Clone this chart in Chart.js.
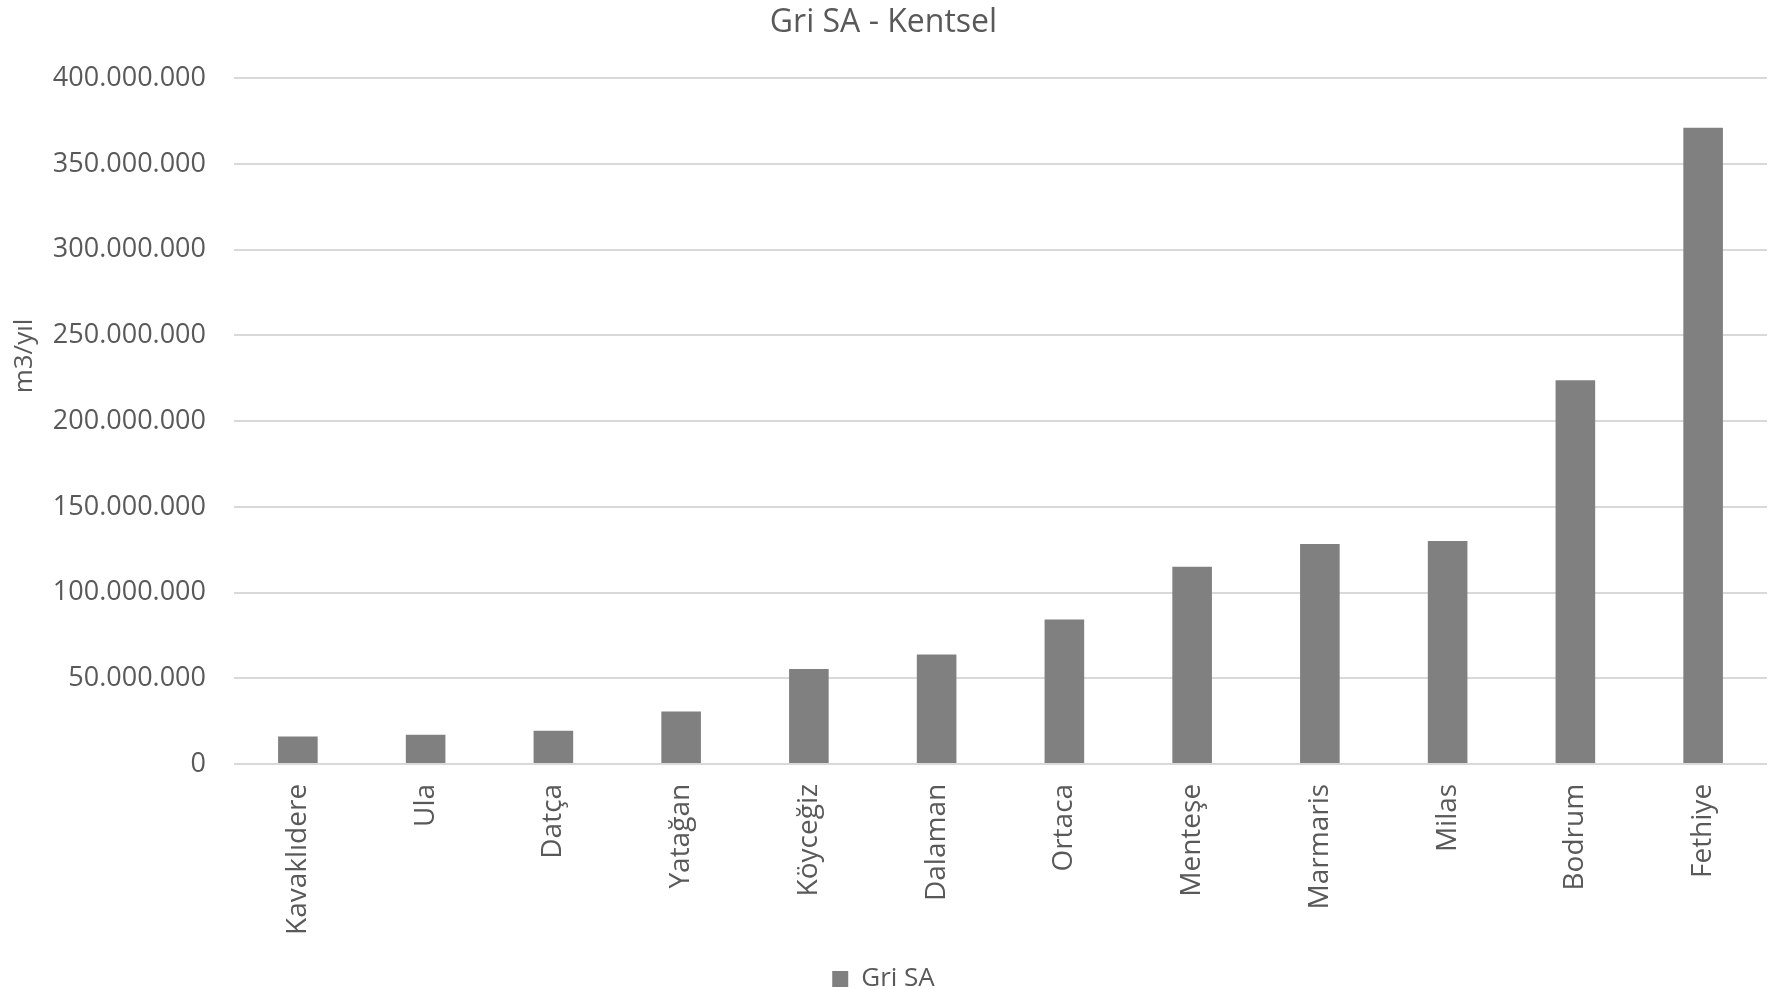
<!DOCTYPE html>
<html>
<head>
<meta charset="utf-8">
<script src="https://cdn.jsdelivr.net/npm/chart.js@4/dist/chart.umd.min.js"></script>
<style>
  html, body { margin: 0; padding: 0; background: #fff; }
  #wrap { width: 1779px; height: 990px; position: relative; }
</style>
</head>
<body>
<div id="wrap"><canvas id="griChart"></canvas></div>
<script>
/* Gri SA - Kentsel : bar chart */

const districts = ['Kavaklıdere', 'Ula', 'Datça', 'Yatağan', 'Köyceğiz', 'Dalaman',
                   'Ortaca', 'Menteşe', 'Marmaris', 'Milas', 'Bodrum', 'Fethiye'];
const griSA = [16.0e6, 17.0e6, 19.3e6, 30.5e6, 55.4e6, 63.9e6,
               84.3e6, 115.0e6, 128.3e6, 130.1e6, 223.9e6, 371.2e6];
const yTicks = [0, 50e6, 100e6, 150e6, 200e6, 250e6, 300e6, 350e6, 400e6];
const yTitle = 'm3/yıl';

const TXT = '#595959';
const GRID = '#d9d9d9';
const FONT = "'Open Sans', sans-serif";

const fmt = v => String(Math.round(v)).replace(/\B(?=(\d{3})+(?!\d))/g, '.');

// y-axis title sits a bit above the middle of the axis, like in the source
const yTitlePlugin = {
  id: 'yTitle',
  afterDraw(chart) {
    const c = chart.ctx;
    const a = chart.chartArea;
    c.save();
    c.translate(25, a.top + (a.bottom - a.top) * 0.405);
    c.rotate(-Math.PI / 2);
    c.fillStyle = TXT;
    c.font = "26px 'Open Sans', sans-serif";
    c.textAlign = 'center';
    c.textBaseline = 'middle';
    c.fillText(yTitle, 0, 0);
    c.restore();
  }
};

new Chart(document.getElementById('griChart'), {
  type: 'bar',
  data: {
    labels: districts,
    datasets: [{
      label: 'Gri SA',
      data: griSA,
      backgroundColor: '#808080',
      borderWidth: 0,
      barPercentage: 0.31,
      categoryPercentage: 1.0,
    }]
  },
  plugins: [yTitlePlugin],
  options: {
    responsive: true,
    maintainAspectRatio: false,
    animation: false,
    layout: { padding: { top: 4, right: 12, bottom: -12, left: 0 } },
    plugins: {
      title: {
        display: true,
        text: 'Gri SA - Kentsel',
        color: TXT,
        font: { family: FONT, size: 32, weight: 'normal' },
        padding: { top: 0, bottom: 36 }
      },
      legend: {
        display: true,
        position: 'bottom',
        labels: {
          color: TXT,
          font: { family: FONT, size: 26 },
          boxWidth: 16, boxHeight: 16,
          padding: 0
        }
      },
      tooltip: { enabled: false }
    },
    scales: {
      x: {
        grid: { display: false },
        border: { display: false },
        afterFit: s => { s.height += 19; },
        ticks: {
          color: TXT,
          font: { family: FONT, size: 28 },
          minRotation: 90, maxRotation: 90,
          padding: 12,
          autoSkip: false
        }
      },
      y: {
        min: 0, max: 400e6,
        afterBuildTicks: axis => { axis.ticks = yTicks.map(v => ({ value: v })); },
        afterFit: s => { s.width = 234; },
        grid: { color: GRID, lineWidth: 2, drawTicks: false },
        border: { display: false },
        ticks: {
          color: TXT,
          font: { family: FONT, size: 27 },
          padding: 28,
          callback: v => fmt(v)
        }
      }
    }
  }
});
</script>
</body>
</html>
